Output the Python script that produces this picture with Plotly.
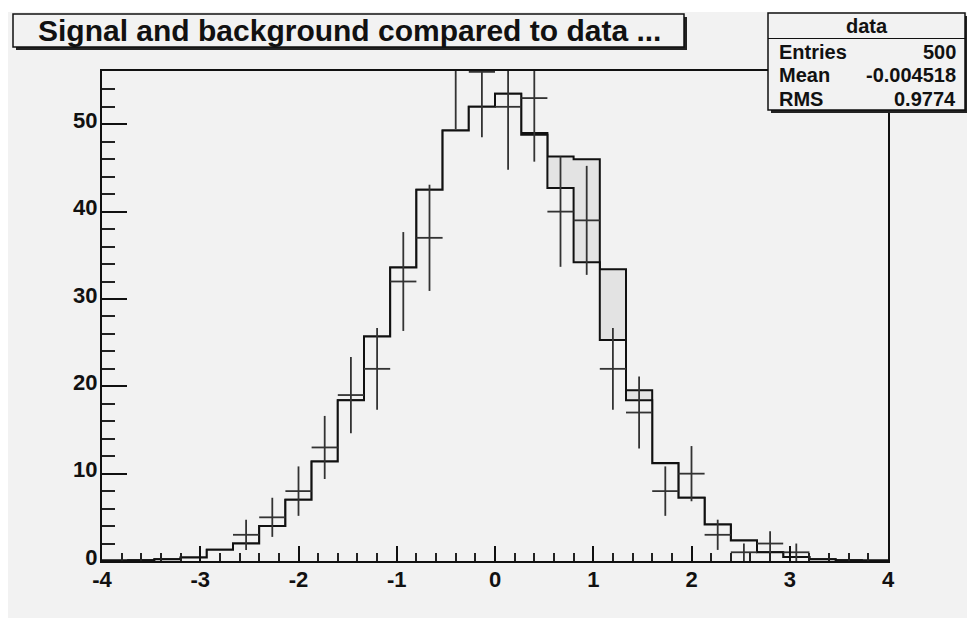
import numpy as np
import plotly.graph_objects as go

# ---------------- data ----------------
x_low, x_high, n_bins = -4.0, 4.0, 30

background = [0.05, 0.08, 0.2, 0.4, 1.3, 2.0, 4.0, 7.0, 11.4, 18.4,
              25.7, 33.6, 42.5, 49.3, 52.0, 53.5, 48.8, 42.7, 34.2, 25.3,
              18.4, 11.2, 7.25, 4.19, 2.35, 1.0, 0.45, 0.2, 0.1, 0.05]
signal = [0, 0, 0, 0, 0, 0, 0, 0, 0, 0,
          0, 0, 0, 0, 0, 0, 0.2, 3.6, 11.8, 8.1,
          1.15, 0.03, 0, 0, 0, 0, 0, 0, 0, 0]
data_counts = [0, 0, 0, 0, 0, 3, 5, 8, 13, 19,
               22, 32, 37, 57, 56, 52, 53, 40, 39, 22,
               17, 8, 10, 3, 1, 2, 1, 0, 0, 0]
data_errors = [0, 0, 0, 0, 0, 1.73, 2.24, 2.83, 3.61, 4.36,
               4.69, 5.66, 6.08, 7.55, 7.48, 7.21, 7.28, 6.32, 6.24, 4.69,
               4.12, 2.83, 3.16, 1.73, 1.0, 1.41, 1.0, 0, 0, 0]

title_text = "Signal and background compared to data ..."
stats_name = "data"
stats_labels = ["Entries", "Mean", "RMS"]
stats_values = ["500", "-0.004518", "0.9774"]

y_top = 56.1

# ---------------- layout geometry ----------------
# the page body has an 8px margin, so the figure starts at (8, 8) on screen
OX, OY = 8, 8
W, H = 975, 618
ML, MT = 102 - OX, 71 - OY
MR = W - (888 - OX)
MB = H - (561 - OY)
PW, PH = W - ML - MR, H - MT - MB


def px(x):  # screen x -> paper
    return (x - OX - ML) / PW


def py(y):  # screen y -> paper
    return (OY + MT + PH - y) / PH


edges = np.linspace(x_low, x_high, n_bins + 1)
centers = 0.5 * (edges[:-1] + edges[1:])
total = [b + s for b, s in zip(background, signal)]

fig = go.Figure()

# stacked total (signal on top of background)
fig.add_trace(go.Scatter(
    x=list(edges), y=total + [total[-1]], mode="lines",
    line=dict(shape="hv", color="#111111", width=2),
    fill="tozeroy", fillcolor="#e3e3e3", hoverinfo="skip", showlegend=False))
# background
fig.add_trace(go.Scatter(
    x=list(edges), y=background + [background[-1]], mode="lines",
    line=dict(shape="hv", color="#111111", width=2),
    fill="tozeroy", fillcolor="#f2f2f2", hoverinfo="skip", showlegend=False))

# data crosses
cx, cy = [], []
for i, (n, e) in enumerate(zip(data_counts, data_errors)):
    if n <= 0:
        continue
    cx += [edges[i], edges[i + 1], None]
    cy += [n, n, None]
    upper = min(n + e, max(n, y_top))
    cx += [centers[i], centers[i], None]
    cy += [n - e, upper, None]
fig.add_trace(go.Scatter(
    x=cx, y=cy, mode="lines", line=dict(color="#333333", width=1.8),
    cliponaxis=False, hoverinfo="skip", showlegend=False))

shapes = []
# white strip at the very top of the canvas
shapes.append(dict(type="rect", xref="paper", yref="paper", layer="below",
                   x0=px(0), x1=px(990), y0=py(12), y1=py(0),
                   fillcolor="white", line=dict(width=0)))


def box(x0, y0, x1, y1):
    # shadow
    shapes.append(dict(type="rect", xref="paper", yref="paper", layer="above",
                       x0=px(x0 + 3), x1=px(x1 + 3), y0=py(y1 + 3), y1=py(y0 + 3),
                       fillcolor="#222222", line=dict(width=0)))
    shapes.append(dict(type="rect", xref="paper", yref="paper", layer="above",
                       x0=px(x0), x1=px(x1), y0=py(y1), y1=py(y0),
                       fillcolor="#f2f2f2", line=dict(color="#111111", width=1.5)))


box(13, 14, 684, 47)
box(768, 13, 965, 110)
shapes.append(dict(type="line", xref="paper", yref="paper", layer="above",
                   x0=px(768), x1=px(965), y0=py(38.5), y1=py(38.5),
                   line=dict(color="#111111", width=1.2)))

ann = []
ann.append(dict(x=px(349), y=py(31), xref="paper", yref="paper",
                text="<b>%s</b>" % title_text, showarrow=False,
                xanchor="center", yanchor="middle",
                font=dict(family="Liberation Sans", size=30, color="#111111")))
ann.append(dict(x=px(867), y=py(26), xref="paper", yref="paper",
                text="<b>%s</b>" % stats_name, showarrow=False,
                xanchor="center", yanchor="middle",
                font=dict(family="Liberation Sans", size=20, color="#111111")))
for k, (lab, val) in enumerate(zip(stats_labels, stats_values)):
    yy = 51.5 + k * 23.5
    ann.append(dict(x=px(777), y=py(yy), xref="paper", yref="paper",
                    text="<b>%s</b>" % lab, showarrow=False,
                    xanchor="left", yanchor="middle",
                    font=dict(family="Liberation Sans", size=20, color="#111111")))
    ann.append(dict(x=px(958), y=py(yy), xref="paper", yref="paper",
                    text="<b>%s</b>" % val, showarrow=False,
                    xanchor="right", yanchor="middle",
                    font=dict(family="Liberation Sans", size=20, color="#111111")))

tickfont = dict(family="Liberation Sans", size=22, color="#111111", weight="bold")

fig.update_layout(
    width=W, height=H,
    margin=dict(l=ML, r=MR, t=MT, b=MB, pad=0),
    paper_bgcolor="#f2f2f2", plot_bgcolor="#f2f2f2",
    shapes=shapes, annotations=ann, showlegend=False,
    xaxis=dict(range=[x_low, x_high], showgrid=False, zeroline=False,
               showline=True, linecolor="#111111", linewidth=2, mirror=True,
               ticks="inside", ticklen=15, tickwidth=2, tickcolor="#111111",
               tickvals=list(range(-4, 5)), ticktext=[str(v) for v in range(-4, 5)],
               tickfont=tickfont, ticklabelstandoff=-2,
               minor=dict(dtick=0.2, tick0=0, ticks="inside", ticklen=8,
                          tickwidth=1.5, tickcolor="#222222", showgrid=False)),
    yaxis=dict(range=[0, y_top], showgrid=False, zeroline=False,
               showline=True, linecolor="#111111", linewidth=2, mirror=True,
               ticks="inside", ticklen=25, tickwidth=2, tickcolor="#111111",
               dtick=10, tick0=0, tickfont=tickfont, ticklabelstandoff=-2,
               ticklabelshift=-4,
               minor=dict(dtick=2, tick0=0, ticks="inside", ticklen=13,
                          tickwidth=1.5, tickcolor="#222222", showgrid=False)),
)

fig.write_html("out.html")
